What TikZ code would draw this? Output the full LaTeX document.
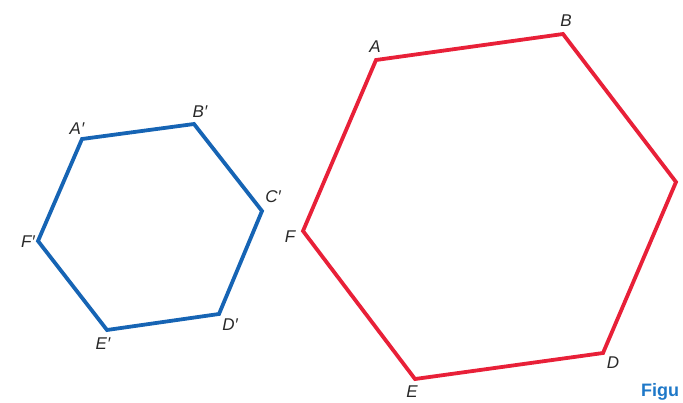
\documentclass[tikz,border=0pt]{standalone}
\usepackage{fontspec}
\setmainfont{Liberation Sans}
\definecolor{hexblue}{RGB}{22,100,180}
\definecolor{hexred}{RGB}{232,32,56}
\definecolor{lbl}{RGB}{40,40,40}
\definecolor{figblue}{RGB}{30,120,200}
\begin{document}
\begin{tikzpicture}[x=1pt,y=-1pt,
  edge/.style={line width=3.8pt,line join=miter},
  lab/.style={text=lbl,font=\fontsize{17}{17}\selectfont\itshape,inner sep=0pt}]
\useasboundingbox (0,0) rectangle (683,402);
% blue hexagon
\coordinate (A1) at (82,139);
\coordinate (B1) at (194,124);
\coordinate (C1) at (262,211);
\coordinate (D1) at (219,314);
\coordinate (E1) at (107,330);
\coordinate (F1) at (38,241);
\draw[edge,hexblue] (A1) -- (B1) -- (C1) -- (D1) -- (E1) -- (F1) -- cycle;
\node[lab] (lA1) at (77,129) {A′};
\node[lab] (lB1) at (200,112) {B′};
\node[lab] (lC1) at (273,197) {C′};
\node[lab] (lD1) at (230,325) {D′};
\node[lab] (lE1) at (103,344) {E′};
\node[lab] (lF1) at (28,242) {F′};
% red hexagon
\coordinate (A) at (376,60);
\coordinate (B) at (563,34);
\coordinate (C) at (676,182);
\coordinate (D) at (603,353);
\coordinate (E) at (415,379);
\coordinate (F) at (303,231);
\draw[edge,hexred] (A) -- (B) -- (C) -- (D) -- (E) -- (F) -- cycle;
\node[lab] (lA) at (375,47) {A};
\node[lab] (lB) at (566,21) {B};
\node[lab] (lD) at (613,363) {D};
\node[lab] (lE) at (412,392) {E};
\node[lab] (lF) at (290,237) {F};
\node[text=figblue,font=\fontsize{18}{18}\selectfont\bfseries,anchor=west,inner sep=0pt] (fig) at (641,392) {Figu};
\end{tikzpicture}
\end{document}
